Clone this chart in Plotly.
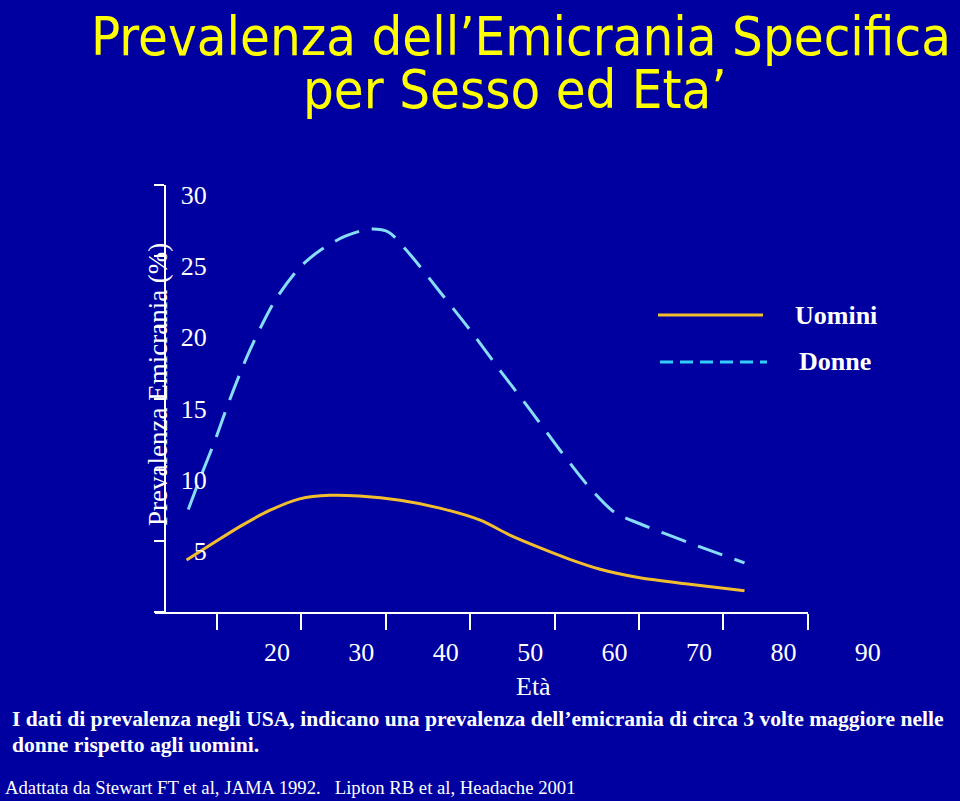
import plotly.graph_objects as go

# ---- data ----
age_tick_labels = [20, 30, 40, 50, 60, 70, 80, 90]
y_tick_vals = [0, 5, 10, 15, 20, 25, 30]
y_tick_text = ["", "5", "10", "15", "20", "25", "30"]

uomini_age = [16.4, 19.2, 22.7, 26.3, 29.8, 33.4, 36.9, 41.7, 46.4, 51.2, 54.7, 58.3, 61.8, 65.4, 70.1, 76.0, 82.5]
uomini_prev = [3.65, 4.7, 6.0, 7.15, 7.95, 8.2, 8.15, 7.85, 7.3, 6.45, 5.4, 4.5, 3.7, 3.0, 2.4, 1.95, 1.5]

donne_age = [16.6, 18.0, 19.8, 21.5, 23.9, 26.9, 29.8, 32.2, 35.2, 38.1, 40.3, 42.9, 46.4, 50.0, 53.5, 57.1, 60.6, 64.2, 67.1, 70.1, 76.0, 82.5]
donne_prev = [7.2, 9.4, 12.1, 14.9, 18.4, 21.9, 24.2, 25.4, 26.4, 26.9, 26.7, 25.1, 22.5, 19.8, 17.0, 14.2, 11.4, 8.7, 7.0, 6.2, 4.85, 3.45]

W, H = 960, 801
BG = "#0000A0"
SERIF = "Liberation Serif, Times New Roman, serif"
NARROW = "Liberation Sans Narrow, Arial Narrow, DejaVu Sans Condensed, sans-serif"

def px_x(p):
    return p / W

def px_y(p):
    return 1 - p / H

fig = go.Figure()
fig.add_trace(go.Scatter(x=uomini_age, y=uomini_prev, mode="lines", name="Uomini",
                         line=dict(color="#F2BE2E", width=3, shape="spline", smoothing=0.8),
                         showlegend=False))
fig.add_trace(go.Scatter(x=donne_age, y=donne_prev, mode="lines", name="Donne",
                         line=dict(color="#86DDF7", width=3, shape="spline", smoothing=0.8,
                                   dash="26px,13px"),
                         showlegend=False))

fig.update_layout(
    width=W, height=H, autosize=False,
    paper_bgcolor=BG, plot_bgcolor=BG,
    margin=dict(l=0, r=0, t=0, b=0, pad=0, autoexpand=False),
    showlegend=False,
    xaxis=dict(domain=[px_x(155), px_x(808)], range=[12.66, 90.02],
               tickvals=age_tick_labels, ticktext=[str(v) for v in age_tick_labels],
               ticks="outside", ticklen=16, tickwidth=2, tickcolor="white",
               showline=True, linecolor="white", linewidth=2,
               showgrid=False, zeroline=False, anchor="y",
               ticklabelshift=60,
               tickfont=dict(family=SERIF, size=26, color="white")),
    yaxis=dict(domain=[px_y(612), px_y(185)], range=[0, 30],
               tickvals=y_tick_vals, ticktext=y_tick_text,
               ticks="outside", ticklen=10, tickwidth=2, tickcolor="white",
               showline=True, linecolor="white", linewidth=2,
               showgrid=False, zeroline=False, anchor="free", position=px_x(165),
               ticklabelposition="outside", ticklabelstandoff=-58, ticklabelshift=10,
               tickfont=dict(family=SERIF, size=26, color="white")),
)

ann = []
ann.append(dict(text="Prevalenza dell\u2019Emicrania Specifica", x=px_x(521), y=px_y(36),
                font=dict(family=NARROW, size=54, color="#FFFF00")))
ann.append(dict(text="per Sesso ed Eta\u2019", x=px_x(515), y=px_y(89),
                font=dict(family=NARROW, size=54, color="#FFFF00")))
ann.append(dict(text="Prevalenza Emicrania (%)", x=px_x(158), y=px_y(385), textangle=-90,
                font=dict(family=SERIF, size=27, color="white")))
ann.append(dict(text="Età", x=px_x(533), y=px_y(686),
                font=dict(family=SERIF, size=26, color="white")))
ann.append(dict(text="<b>Uomini</b>", x=px_x(793), y=px_y(315), xanchor="left",
                font=dict(family=SERIF, size=26, color="white")))
ann.append(dict(text="<b>Donne</b>", x=px_x(797), y=px_y(361), xanchor="left",
                font=dict(family=SERIF, size=26, color="white")))
ann.append(dict(text="<b>I dati di prevalenza negli USA, indicano una prevalenza dell\u2019emicrania di circa 3 volte maggiore nelle</b>",
                x=px_x(10), y=px_y(719), xanchor="left",
                font=dict(family=SERIF, size=21.6, color="white")))
ann.append(dict(text="<b>donne rispetto agli uomini.</b>",
                x=px_x(10), y=px_y(745), xanchor="left",
                font=dict(family=SERIF, size=21.6, color="white")))
ann.append(dict(text="Adattata da Stewart FT et al, JAMA 1992.   Lipton RB et al, Headache 2001",
                x=px_x(3), y=px_y(787), xanchor="left",
                font=dict(family=SERIF, size=18.7, color="white")))
for a in ann:
    a.update(xref="paper", yref="paper", showarrow=False)
    a.setdefault("xanchor", "center")
    a.setdefault("yanchor", "middle")
fig.update_layout(annotations=ann)

fig.update_layout(shapes=[
    dict(type="line", xref="paper", yref="paper", x0=px_x(658), x1=px_x(763), y0=px_y(315), y1=px_y(315),
         line=dict(color="#F2BE2E", width=3)),
    dict(type="line", xref="paper", yref="paper", x0=px_x(660), x1=px_x(767), y0=px_y(362), y1=px_y(362),
         line=dict(color="#33CCFF", width=3, dash="13px,7px")),
])

fig.write_html("out.html", config={"displayModeBar": False},
               post_script="document.body.style.margin='0';document.body.style.overflow='hidden';")
